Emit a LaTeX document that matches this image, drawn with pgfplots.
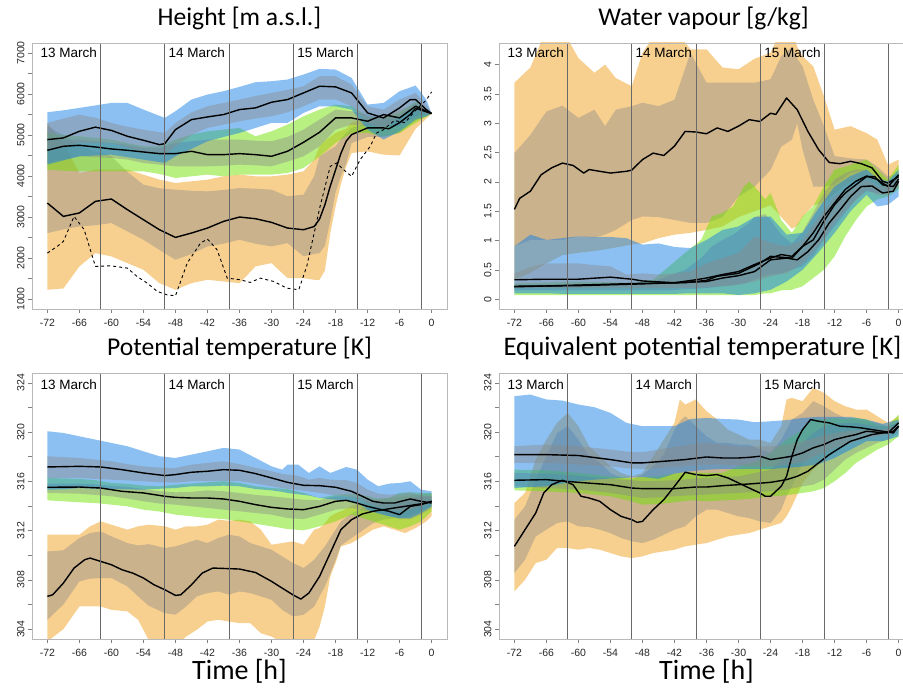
\documentclass[border=0pt]{standalone}
\usepackage{pgfplots}
\pgfplotsset{compat=1.18}
\usepackage{pgfplotstable}
\usepgfplotslibrary{fillbetween}
\usepackage{fontspec}
\setmainfont{Liberation Sans}
\newfontfamily\titlefont{Carlito}

\definecolor{cOr}{RGB}{240,160,30}
\definecolor{cBl}{RGB}{25,130,230}
\definecolor{cGr}{RGB}{115,225,5}
\definecolor{cIn}{RGB}{138,138,138}
\definecolor{vline}{RGB}{105,105,105}

% outer band olo-ohi, inner band ilo-ihi
\newcommand{\group}[3]{%
  \addplot[draw=none, name path=#3a] table[x=t,y=olo]{#1};
  \addplot[draw=none, name path=#3b] table[x=t,y=ohi]{#1};
  \addplot[fill=#2, fill opacity=0.5, draw=none] fill between[of=#3a and #3b];
  \addplot[draw=none, name path=#3c] table[x=t,y=ilo]{#1};
  \addplot[draw=none, name path=#3d] table[x=t,y=ihi]{#1};
  \addplot[fill=cIn, fill opacity=0.42, draw=none] fill between[of=#3c and #3d];
}

\tikzset{date/.style={anchor=base west, font=\fontsize{13.5}{14}\selectfont, inner sep=0pt}}

\pgfplotsset{
  panel/.style={
    width=415pt, height=266pt, scale only axis, anchor=south west,
    xmin=-74.88, xmax=2.88,
    xtick={-72,-66,...,0},
    axis line style={black!28, line width=0.8pt},
    tick style={black!50, line width=0.6pt},
    tick align=outside, tick pos=left,
    major tick length=4pt, minor tick length=4pt,
    ticklabel style={font=\fontsize{10.5}{10.5}\selectfont, text=black!85},
    xticklabel style={yshift=-3pt},
    yticklabel style={rotate=90, anchor=south},
    /pgf/number format/1000 sep={},
    /pgf/number format/assume math mode=true,
    extra x ticks={-62,-50,-38,-26,-14,-2},
    extra x tick labels={},
    extra x tick style={grid=major, major grid style={vline, line width=0.6pt}, major tick length=0pt},
    title style={font=\titlefont\fontsize{25.6}{26}\selectfont, at={(axis description cs:0.5,1)}, anchor=base, yshift=11pt},
    xlabel style={font=\titlefont\fontsize{28}{28}\selectfont, at={(axis description cs:0.5,0)}, anchor=base, yshift=-41pt, inner sep=0pt},
    axis on top,
  },
  med/.style={black, line width=1.4pt, line join=round},
}

% ---------------- Height ----------------
\pgfplotstableread{
t olo ohi ilo ihi
-72 1228 5293 2610 5211
-69 1260 4805 2700 5000
-66 1797 4073 2772 4724
-63 2122 4154 2800 4600
-60 2041 4154 2854 4480
-57 1878 4154 2650 4100
-54 1715 4033 2447 3789
-51 1390 3911 2200 3700
-48 1228 3829 1959 3667
-45 1390 3870 2100 3640
-42 1472 3911 2285 3626
-39 1430 3992 2350 3660
-36 1390 4033 2447 3707
-33 1797 3992 2350 3690
-30 1878 3992 2285 3667
-27 1512 4033 2366 3504
-24 1512 4114 2041 3545
-22 1472 4400 2100 4000
-21 1472 4724 2122 4480
-20 1700 4850 2300 4560
-19 2600 4950 2900 4650
-18 3260 5049 3600 4724
-17 3800 5100 4000 4900
-16 4236 5150 4300 5050
-15 4561 5300 4800 5171
-12 4600 5400 4950 5293
-9 4520 5450 4950 5330
-6 4500 5600 5050 5450
-3 5150 5750 5350 5650
0 5520 5520 5520 5520
}\HOr
\pgfplotstableread{
t olo ohi ilo ihi
-72 4276 5553 4642 5293
-69 4380 5600 4700 5400
-66 4480 5659 4805 5496
-63 4500 5720 4805 5420
-60 4520 5780 4805 5293
-57 4460 5780 4700 5200
-54 4398 5618 4561 5130
-50 4317 5415 4520 5049
-48 4480 5577 4724 5293
-45 4660 5862 5000 5550
-42 4846 5984 5171 5699
-39 4950 6065 5250 5780
-36 5049 6171 5333 5862
-33 5170 6284 5400 5950
-30 5293 6309 5455 6024
-27 5293 6350 5550 6100
-24 5537 6472 5699 6187
-21 5699 6610 5862 6431
-18 5699 6593 5862 6431
-15 5618 6390 5699 6228
-12 5130 5740 5293 5699
-9 4886 5780 5130 5618
-6 5089 6065 5455 5862
-3 5374 6203 5699 6024
-1 5450 5862 5500 5750
0 5520 5520 5520 5520
}\HBl
\pgfplotstableread{
t olo ohi ilo ihi
-72 4154 5049 4317 4886
-69 4130 5000 4400 4886
-66 4114 4967 4480 4886
-63 4114 4927 4460 4846
-60 4114 4886 4439 4805
-57 4114 4800 4400 4760
-54 4114 4724 4317 4683
-51 4050 4724 4276 4683
-48 3951 4886 4236 4805
-45 3992 5008 4236 4846
-42 4033 5089 4236 4886
-39 3992 5130 4250 4886
-36 4033 5171 4276 4886
-33 4033 4967 4260 4860
-30 4033 5089 4236 4846
-27 4073 5252 4350 4950
-24 4195 5455 4480 5130
-21 4480 5618 4724 5374
-18 4805 5740 5130 5618
-15 5049 5699 5252 5577
-12 5049 5455 5211 5496
-9 4967 5415 5211 5400
-6 5049 5537 5211 5455
-3 5293 5821 5455 5780
0 5520 5520 5520 5520
}\HGr

% ---------------- Water vapour ----------------
\pgfplotstableread{
t olo ohi ilo ihi
-72 0.33 3.69 0.90 2.49
-69 0.45 3.95 1.01 2.80
-66 0.61 4.60 1.01 3.20
-63 0.75 4.60 1.01 3.30
-60 0.79 4.11 1.07 3.09
-57 0.82 3.86 1.05 3.23
-55 0.85 4.00 1.10 2.95
-53 0.88 3.77 1.18 3.23
-50 0.93 3.63 1.35 3.29
-48 0.95 4.20 1.41 3.35
-45 1.04 4.60 1.40 3.29
-42 1.10 4.60 1.35 3.40
-39 1.13 4.26 1.30 4.20
-36 1.18 4.26 1.30 3.69
-33 1.24 3.95 1.40 3.69
-30 1.40 3.92 1.75 3.69
-27 1.50 4.10 1.92 3.69
-24 1.60 4.20 2.20 3.75
-22 1.40 4.60 2.60 4.14
-20 1.20 4.60 2.72 4.30
-19 1.25 4.30 3.00 4.10
-18 1.40 4.14 2.55 3.97
-16 1.60 3.97 1.92 3.40
-14 1.65 3.46 1.92 2.95
-12 1.80 2.89 1.95 2.44
-9 2.00 2.95 2.15 2.40
-6 2.05 2.83 2.20 2.38
-4 1.95 2.72 2.10 2.26
-2 1.85 2.29 1.95 2.09
0 1.90 2.38 2.00 2.15
}\WOr
\pgfplotstableread{
t olo ohi ilo ihi
-72 0.10 0.90 0.19 0.44
-69 0.10 1.10 0.19 0.55
-66 0.10 1.01 0.19 0.61
-63 0.09 1.04 0.19 0.61
-60 0.09 1.07 0.19 0.61
-57 0.09 1.06 0.19 0.58
-54 0.09 1.06 0.19 0.56
-51 0.09 1.04 0.19 0.42
-48 0.09 0.93 0.19 0.44
-45 0.09 0.95 0.19 0.42
-42 0.09 0.89 0.19 0.44
-39 0.10 0.87 0.19 0.47
-36 0.10 1.01 0.20 0.61
-33 0.10 1.18 0.22 0.70
-30 0.07 1.24 0.24 0.79
-27 0.10 1.40 0.30 1.07
-24 0.16 1.41 0.39 0.96
-21 0.30 1.10 0.44 0.90
-18 0.50 1.13 0.61 1.01
-15 0.80 1.55 0.90 1.40
-12 1.13 1.92 1.30 1.75
-9 1.50 2.10 1.60 1.92
-6 1.78 2.21 1.87 2.04
-4 1.58 2.04 1.78 1.92
-2 1.61 2.01 1.78 1.92
0 1.75 2.21 1.92 2.09
}\WBl
\pgfplotstableread{
t olo ohi ilo ihi
-72 0.07 0.27 0.15 0.24
-60 0.07 0.30 0.15 0.26
-50 0.07 0.28 0.15 0.27
-46 0.07 0.33 0.15 0.30
-43 0.07 0.56 0.15 0.40
-40 0.07 0.79 0.17 0.50
-37 0.07 1.01 0.18 0.70
-35 0.07 1.41 0.20 0.90
-33 0.07 1.47 0.22 1.01
-31 0.07 1.58 0.24 1.10
-29 0.07 1.92 0.27 1.24
-28 0.07 2.00 0.30 1.30
-27 0.07 1.92 0.33 1.40
-25 0.10 1.70 0.40 1.45
-24 0.10 1.81 0.42 1.35
-22 0.15 1.35 0.44 1.10
-20 0.16 1.13 0.50 0.95
-18 0.22 1.41 0.56 1.15
-16 0.36 1.58 0.73 1.47
-14 0.50 1.92 1.01 1.81
-12 0.73 2.21 1.24 2.04
-10 1.07 2.26 1.47 2.15
-8 1.35 2.32 1.70 2.21
-6 1.58 2.38 1.84 2.21
-4 1.70 2.21 1.81 2.09
-2 1.75 2.04 1.81 2.00
0 1.87 2.29 1.98 2.15
}\WGr

% ---------------- Potential temperature ----------------
\pgfplotstableread{
t olo ohi ilo ihi
-72 303.00 311.67 304.76 310.31
-69 304.00 311.67 306.00 310.40
-66 305.84 311.67 307.88 311.40
-64 305.84 312.35 308.10 311.80
-62 305.84 312.75 308.15 311.94
-60 305.57 312.48 308.15 311.53
-57 305.44 312.08 307.47 310.99
-55 304.76 312.35 306.66 310.80
-53 303.10 312.48 305.90 310.90
-50 302.60 312.35 305.30 310.59
-48 302.60 312.08 305.17 310.72
-46 303.40 312.35 305.84 310.99
-44 303.95 312.35 306.66 311.26
-42 304.62 312.48 306.93 310.99
-40 304.76 312.89 307.06 311.40
-38 304.62 312.80 306.80 311.67
-36 304.49 312.89 307.06 311.53
-34 304.49 312.75 306.93 310.99
-32 303.67 312.08 306.66 310.72
-30 303.40 310.86 306.38 310.45
-28 302.90 310.99 305.57 309.91
-26 302.60 311.13 305.03 309.37
-24 302.60 310.86 305.17 308.96
-22 303.13 312.08 305.84 309.64
-21 304.20 312.21 306.66 310.18
-20 305.84 312.60 307.47 310.72
-19 308.28 313.16 308.50 311.40
-18 309.37 313.40 309.60 312.08
-17 310.72 313.57 310.80 312.75
-15 310.99 314.00 311.40 313.40
-13 311.53 314.30 312.00 313.80
-11 312.08 314.50 312.60 314.00
-9 312.35 314.60 312.90 314.10
-7 312.08 314.70 313.00 314.20
-5 311.80 314.80 313.10 314.30
-3 312.21 314.90 313.40 314.40
-1 312.75 315.00 313.80 314.50
0 313.20 315.00 314.00 314.60
}\POr
\pgfplotstableread{
t olo ohi ilo ihi
-72 315.33 320.07 316.28 318.04
-69 315.35 319.93 316.28 317.97
-66 315.46 319.66 316.28 317.90
-63 315.40 319.39 316.20 317.77
-60 315.38 319.12 316.14 317.63
-57 315.35 318.85 316.08 317.40
-54 315.33 318.44 316.01 317.22
-51 315.40 318.04 315.92 317.12
-48 315.46 317.90 315.90 317.09
-45 315.60 318.17 316.01 317.36
-42 315.60 318.44 316.01 317.50
-39 315.65 318.72 316.05 317.63
-36 315.60 318.58 316.01 317.40
-33 315.38 317.90 315.82 317.10
-30 315.27 317.22 315.60 316.82
-28 315.15 316.95 315.45 316.60
-27 315.06 317.36 315.40 316.55
-25 314.95 317.36 315.30 316.45
-23 314.85 316.68 315.19 316.14
-21 314.65 317.22 315.06 316.28
-19 314.55 316.68 314.92 316.14
-16 314.45 317.17 314.80 316.10
-14 314.30 316.95 314.65 315.87
-12 313.70 316.14 314.24 315.33
-10 313.40 315.60 313.90 315.00
-8 313.16 315.82 313.65 314.92
-6 313.02 315.87 313.57 314.97
-4 313.02 316.01 313.70 315.11
-2 313.43 315.33 313.97 314.84
0 313.97 315.19 314.24 314.79
}\PBl
\pgfplotstableread{
t olo ohi ilo ihi
-72 314.46 316.28 315.06 315.82
-66 314.30 316.20 315.00 315.82
-63 314.24 316.10 314.90 315.75
-60 314.11 315.87 314.79 315.65
-57 313.97 315.80 314.60 315.55
-54 313.70 315.65 314.38 315.38
-51 313.55 315.60 314.20 315.20
-48 313.30 315.73 314.11 315.11
-45 313.16 315.82 313.97 315.15
-42 313.02 315.92 313.84 315.27
-39 312.94 316.01 313.70 315.20
-36 312.75 315.87 313.57 315.06
-33 312.56 315.60 313.43 314.90
-30 312.35 315.46 313.30 314.79
-27 312.13 315.38 313.02 314.65
-24 312.02 315.06 312.94 314.51
-21 312.35 314.65 313.30 314.46
-18 312.75 314.90 313.70 314.79
-15 313.30 315.00 313.84 314.79
-12 312.89 314.80 313.57 314.51
-10 312.62 314.60 313.40 314.40
-8 312.35 314.65 313.20 314.24
-6 312.08 315.06 312.94 314.24
-4 312.35 315.11 312.94 314.65
-2 312.75 315.06 313.30 314.79
0 313.57 315.06 313.84 314.79
}\PGr

% ---------------- Equivalent potential temperature ----------------
\pgfplotstableread{
t olo ohi ilo ihi
-72 307.06 314.24 308.55 312.89
-70 308.01 315.06 309.64 313.97
-68 309.37 317.77 311.53 316.14
-66 309.64 319.39 312.08 318.04
-64 310.59 320.75 312.62 319.93
-62 310.59 321.56 312.75 320.48
-60 310.45 320.48 312.35 319.39
-58 310.59 318.85 312.29 318.04
-56 310.45 318.04 312.08 317.50
-54 310.18 317.22 311.80 316.68
-52 309.91 316.68 311.40 316.28
-50 309.77 316.41 311.13 316.14
-48 309.91 316.68 310.99 316.55
-46 310.18 318.04 311.26 317.22
-44 310.31 319.39 311.67 318.17
-42 310.45 320.75 312.08 320.20
-41 310.59 322.65 312.21 320.88
-40 310.72 322.24 312.35 321.29
-38 310.86 322.65 313.16 320.48
-36 310.99 321.70 313.70 319.66
-34 311.26 321.02 313.70 319.12
-32 311.53 320.20 313.43 319.12
-30 311.67 319.80 313.16 318.99
-28 311.80 319.39 313.02 318.99
-26 312.08 319.39 312.75 318.58
-24 312.35 319.12 312.62 318.31
-22 312.62 320.48 313.70 319.39
-21 313.16 322.65 314.79 320.20
-20 313.97 322.78 315.60 321.02
-18 315.87 322.51 317.50 321.56
-16 316.95 323.59 318.58 322.51
-14 317.77 323.19 319.12 322.10
-12 318.58 322.51 319.66 321.56
-10 319.12 322.10 319.93 321.15
-8 319.66 321.83 320.07 321.02
-6 319.93 321.83 320.07 320.88
-4 320.07 321.29 320.20 320.75
-2 320.07 320.75 320.20 320.48
0 320.48 321.29 320.61 320.75
}\EOr
\pgfplotstableread{
t olo ohi ilo ihi
-72 315.46 322.92 317.50 318.85
-69 315.54 323.05 317.50 318.93
-66 315.60 322.65 317.50 318.99
-63 315.82 322.56 317.45 318.93
-60 316.01 322.24 317.36 318.85
-57 316.14 322.02 317.28 318.72
-54 316.22 321.56 317.22 318.58
-51 316.28 320.75 317.06 318.42
-48 316.36 320.48 317.00 318.37
-45 316.20 320.48 317.06 318.58
-42 316.63 320.48 317.17 318.80
-39 316.82 321.07 317.28 318.99
-36 316.95 321.15 317.36 319.12
-33 317.00 321.07 317.36 318.99
-30 317.00 321.02 317.28 318.85
-27 317.00 320.80 317.22 318.85
-24 317.00 320.88 317.20 318.85
-21 317.10 320.97 317.35 318.99
-18 317.20 321.15 317.55 319.26
-15 317.40 321.24 318.17 319.61
-12 317.90 321.24 318.72 319.93
-9 318.58 321.24 319.12 320.12
-6 319.26 321.02 319.53 320.20
-3 319.26 320.67 319.72 320.20
0 319.66 321.02 320.20 320.61
}\EBl
\pgfplotstableread{
t olo ohi ilo ihi
-72 315.27 316.95 315.60 316.68
-66 315.19 316.90 315.46 316.63
-60 315.06 316.68 315.33 316.47
-54 314.79 316.41 315.06 316.20
-50 314.38 316.28 314.79 316.09
-48 314.11 316.36 314.65 316.01
-45 314.16 316.41 314.70 316.04
-42 314.30 316.63 314.79 316.09
-39 314.46 316.74 314.87 316.20
-36 314.38 316.68 314.92 316.28
-33 314.46 316.68 315.00 316.36
-30 314.51 317.22 315.06 316.41
-27 314.62 317.55 315.14 316.68
-24 314.79 318.31 315.19 316.95
-21 314.87 319.39 315.33 318.04
-18 315.06 320.20 315.60 319.12
-16 315.19 321.07 315.73 319.93
-14 315.46 321.02 316.14 320.48
-12 316.01 321.15 316.95 320.69
-10 316.68 321.07 317.77 320.72
-8 317.50 321.15 318.31 320.75
-6 318.04 321.02 318.72 320.61
-4 318.58 320.61 319.12 320.48
-2 318.99 320.48 319.39 320.43
0 319.66 321.43 319.93 320.88
}\EGr

\begin{document}
\begin{tikzpicture}

% ===== Height =====
\begin{axis}[panel, at={(32pt,379pt)},
  title={Height [m a.s.l.]},
  ymin=760, ymax=7240, ytick={1000,2000,...,7000}, minor y tick num=1]
\group{\HOr}{cOr}{ho}
\group{\HGr}{cGr}{hg}
\group{\HBl}{cBl}{hb}
\addplot[med] coordinates {(-72,3341) (-69,3016) (-66,3100) (-63,3382) (-60,3439) (-57,3179) (-54,2935) (-51,2691) (-48,2504) (-45,2610) (-42,2732) (-39,2894) (-36,3000) (-33,2959) (-30,2870) (-27,2732) (-24,2691) (-22,2770) (-21,2950) (-20,3300) (-19,3750) (-18,4150) (-17,4550) (-16,4850) (-15,5008) (-12,5171) (-9,5171) (-8,5150) (-6,5300) (-4,5500) (-3,5650) (0,5520)};
\addplot[med] coordinates {(-72,4626) (-69,4724) (-66,4748) (-63,4707) (-60,4659) (-57,4626) (-54,4585) (-51,4545) (-48,4545) (-45,4602) (-42,4520) (-39,4520) (-36,4545) (-33,4520) (-30,4480) (-27,4602) (-24,4821) (-21,5065) (-18,5415) (-15,5415) (-12,5333) (-9,5496) (-6,5415) (-3,5700) (0,5520)};
\addplot[med] coordinates {(-72,4886) (-69,4927) (-66,5089) (-63,5190) (-60,5110) (-57,4967) (-54,4870) (-51,4764) (-50,4789) (-48,5130) (-45,5374) (-42,5439) (-39,5496) (-36,5618) (-33,5659) (-30,5797) (-27,5862) (-24,6024) (-21,6187) (-18,6171) (-15,6024) (-12,5537) (-9,5415) (-6,5659) (-4,5862) (-3,5862) (-1,5618) (0,5520)};
\addplot[black, dashed, line width=0.9pt] coordinates {(-72,2122) (-70,2300) (-69,2407) (-67,3016) (-65.1,2691) (-63,1797) (-60.2,1813) (-57,1756) (-55.2,1553) (-53.3,1390) (-51.4,1187) (-49.6,1106) (-48,1081) (-45.8,1878) (-43.3,2366) (-42,2463) (-40.2,2203) (-38.3,1512) (-35.8,1472) (-34,1407) (-32.1,1512) (-29.6,1431) (-27.1,1268) (-24.9,1228) (-23.4,1797) (-20.9,3260) (-19,4236) (-17.8,4317) (-16.5,4154) (-15,3992) (-13.4,4398) (-11.5,4724) (-10.3,5049) (-9,5130) (-7,5350) (-5,5300) (-3,5600) (-1,5850) (0,6050)};
\node[date] at (axis cs:-73.3,6878) {13 March};
\node[date] at (axis cs:-49.3,6878) {14 March};
\node[date] at (axis cs:-25.2,6878) {15 March};
\end{axis}

% ===== Water vapour =====
\begin{axis}[panel, at={(499pt,379pt)},
  title={Water vapour [g/kg]}, title style={xshift=-3pt},
  ymin=-0.168, ymax=4.368, ytick={0,0.5,...,4}]
\group{\WOr}{cOr}{wo}
\group{\WGr}{cGr}{wg}
\group{\WBl}{cBl}{wb}
\addplot[med] coordinates {(-72,1.53) (-71,1.72) (-69,1.84) (-67,2.12) (-65,2.24) (-63,2.32) (-61,2.28) (-59,2.15) (-58,2.21) (-56,2.18) (-54,2.15) (-51,2.18) (-50,2.20) (-48,2.38) (-46,2.49) (-44,2.45) (-42,2.61) (-40,2.86) (-38,2.85) (-36,2.82) (-34,2.92) (-32,2.86) (-30,2.95) (-28,3.06) (-26,3.03) (-24,3.17) (-23,3.15) (-21,3.43) (-19,3.23) (-17,2.86) (-15,2.55) (-13,2.33) (-11,2.31) (-9,2.35) (-7,2.31) (-5,2.24) (-3,2.01) (-2,1.98) (0,2.09)};
\addplot[med] coordinates {(-72,0.33) (-66,0.34) (-60,0.34) (-54,0.375) (-50,0.34) (-48,0.31) (-42,0.28) (-38,0.33) (-36,0.36) (-33,0.42) (-30,0.47) (-27,0.59) (-24,0.70) (-22,0.76) (-20,0.73) (-18,0.90) (-16,1.01) (-14,1.33) (-12,1.61) (-10,1.81) (-8,1.95) (-6,2.09) (-4.5,2.09) (-3,1.95) (-1,1.92) (0,2.05)};
\addplot[med] coordinates {(-72,0.22) (-60,0.23) (-54,0.245) (-48,0.26) (-42,0.28) (-36,0.30) (-33,0.36) (-30,0.40) (-27,0.47) (-24,0.67) (-21,0.70) (-19,0.67) (-17,0.81) (-15,1.01) (-13,1.30) (-11,1.52) (-9,1.75) (-7,1.92) (-5,1.93) (-3,1.81) (-1,1.84) (0,2.01)};
\addplot[med] coordinates {(-72,0.21) (-48,0.27) (-40,0.28) (-36,0.32) (-34,0.39) (-30,0.44) (-26,0.61) (-24,0.73) (-20,0.70) (-18,0.90) (-16,1.13) (-14,1.41) (-12,1.64) (-10,1.87) (-8,2.01) (-6,2.10) (-4,2.04) (-2,1.92) (0,2.12)};
\node[date] at (axis cs:-73.3,4.12) {13 March};
\node[date] at (axis cs:-49.3,4.12) {14 March};
\node[date] at (axis cs:-25.2,4.12) {15 March};
\end{axis}

% ===== Potential temperature =====
\begin{axis}[panel, at={(32pt,49pt)},
  title={Potential temperature [K]}, xlabel={Time [h]},
  ymin=303.2, ymax=324.8, ytick={304,308,...,324}, minor y tick num=1]
\group{\POr}{cOr}{po}
\group{\PGr}{cGr}{pg}
\group{\PBl}{cBl}{pb}
\addplot[med] coordinates {(-72,306.66) (-71,306.79) (-69,307.74) (-67,308.96) (-65,309.64) (-64,309.77) (-62,309.50) (-60,309.23) (-58,308.82) (-56,308.55) (-54,308.15) (-52,307.60) (-50,307.20) (-48,306.74) (-47,306.79) (-45,307.60) (-43,308.55) (-41,308.96) (-39,308.93) (-36,308.88) (-33,308.60) (-30,307.88) (-28,307.33) (-26,306.79) (-24.5,306.44) (-23,306.93) (-21,308.28) (-19,310.18) (-17,312.08) (-15,312.89) (-13,313.35) (-11,313.57) (-9,313.70) (-7,313.84) (-5,313.97) (-3,314.11) (-1,314.24) (0,314.38)};
\addplot[med] coordinates {(-72,317.17) (-66,317.22) (-62,317.17) (-58,316.95) (-54,316.68) (-50,316.47) (-48,316.55) (-45,316.74) (-42,316.82) (-39,316.95) (-36,316.90) (-33,316.63) (-30,316.28) (-27,315.92) (-24,315.68) (-21,315.65) (-18,315.52) (-15,315.19) (-13,314.79) (-11,314.38) (-9,314.24) (-7,314.24) (-5,314.46) (-4,314.57) (-2,314.38) (0,314.24)};
\addplot[med] coordinates {(-72,315.52) (-66,315.54) (-62,315.46) (-58,315.19) (-54,315.06) (-50,314.79) (-48,314.70) (-45,314.65) (-42,314.65) (-39,314.57) (-36,314.38) (-33,314.11) (-30,313.89) (-27,313.76) (-24,313.70) (-21,313.97) (-18,314.38) (-16,314.46) (-14,314.24) (-12,313.97) (-10,313.76) (-8,313.57) (-6,313.30) (-4,313.97) (-2,314.11) (0,314.38)};
\node[date] at (axis cs:-73.3,323.5) {13 March};
\node[date] at (axis cs:-49.3,323.5) {14 March};
\node[date] at (axis cs:-25.2,323.5) {15 March};
\end{axis}

% ===== Equivalent potential temperature =====
\begin{axis}[panel, at={(499pt,49pt)},
  title={Equivalent potential temperature [K]},
  title style={font=\titlefont\fontsize{26.8}{27}\selectfont, xshift=-4pt},
  xlabel={Time [h]},
  ymin=303.2, ymax=324.8, ytick={304,308,...,324}, minor y tick num=1]
\group{\EOr}{cOr}{eo}
\group{\EGr}{cGr}{eg}
\group{\EBl}{cBl}{eb}
\addplot[med] coordinates {(-72,310.72) (-70,312.08) (-68,313.43) (-66.5,315.06) (-65,315.73) (-63,316.09) (-61,315.73) (-59.5,314.79) (-58,314.65) (-56,314.38) (-54,313.70) (-52,313.16) (-50,312.89) (-49,312.67) (-48,312.75) (-46,313.70) (-44,314.51) (-42,315.60) (-40,316.74) (-38,316.55) (-36,316.47) (-34,316.55) (-32,316.28) (-30,315.87) (-28,315.46) (-26,315.06) (-25,314.79) (-24,314.79) (-22,315.60) (-21,316.41) (-20,318.04) (-19,319.39) (-18,320.20) (-16.5,321.02) (-15,320.88) (-13,320.75) (-11,320.48) (-9,320.43) (-7,320.34) (-5,320.20) (-3,320.07) (-1,319.93) (0,320.48)};
\addplot[med] coordinates {(-72,318.17) (-66,318.17) (-60,318.10) (-54,317.77) (-50,317.50) (-48,317.50) (-44,317.63) (-40,317.77) (-36,317.98) (-33,317.90) (-30,317.90) (-28,317.95) (-26,318.04) (-24,317.77) (-22,317.90) (-20,318.04) (-18,318.31) (-16,318.72) (-14,318.99) (-12,319.39) (-10,319.61) (-8,319.80) (-6,320.07) (-4,319.99) (-2,319.93) (0,320.75)};
\addplot[med] coordinates {(-72,316.09) (-66,316.14) (-60,315.92) (-54,315.73) (-50,315.46) (-48,315.41) (-42,315.41) (-38,315.54) (-36,315.54) (-33,315.65) (-30,315.73) (-27,315.82) (-24,315.92) (-21,316.14) (-19,316.41) (-17,316.82) (-15,317.50) (-13,318.17) (-11,318.72) (-9,319.26) (-7,319.53) (-5,319.80) (-3,319.93) (-1,320.07) (0,320.48)};
\node[date] at (axis cs:-73.3,323.5) {13 March};
\node[date] at (axis cs:-49.3,323.5) {14 March};
\node[date] at (axis cs:-25.2,323.5) {15 March};
\end{axis}

\pgfresetboundingbox
\path (0pt,0pt) rectangle (903pt,688pt);
\end{tikzpicture}
\end{document}
